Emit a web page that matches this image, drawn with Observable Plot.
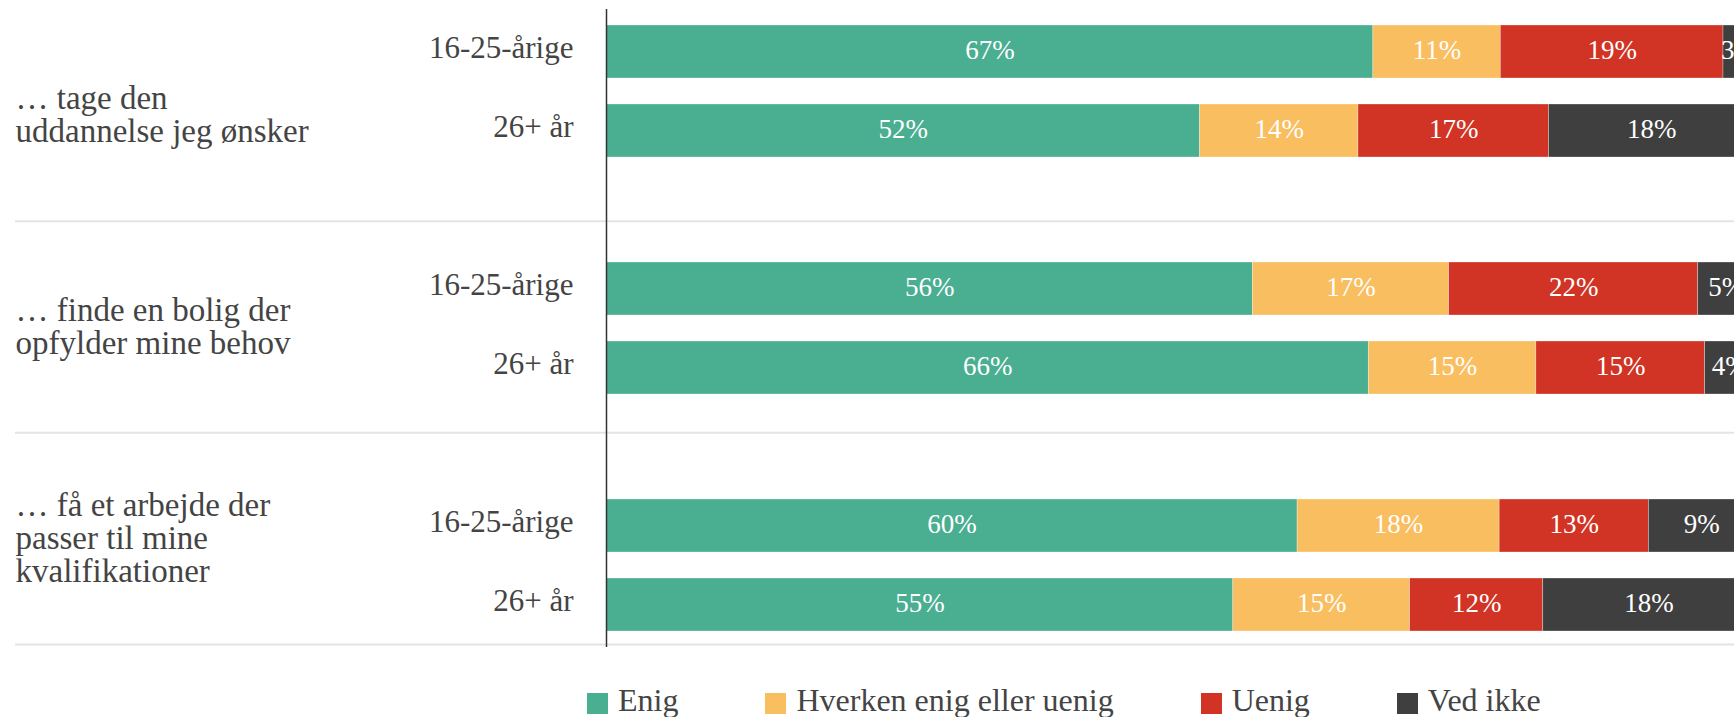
<!DOCTYPE html>
<html>
<head>
<meta charset="utf-8">
<script src="https://cdn.jsdelivr.net/npm/d3@7"></script>
<script src="https://cdn.jsdelivr.net/npm/@observablehq/plot@0.6"></script>
<style>
  html, body { margin: 0; padding: 0; background: #fff; overflow: hidden; }
  #chart { position: relative; width: 1734px; height: 660px; overflow: hidden; }
  #chart > svg { position: absolute; left: 0; top: 0; }
  #legend { position: relative; top: 12px; display: flex; align-items: center; height: 57px; padding-left: 587px;
            font-family: "Liberation Serif", serif; font-size: 32px; color: #444; }
  .item { display: flex; align-items: center; margin-right: 87px; }
  .sw { width: 21px; height: 21px; margin-right: 10px; margin-top: 5px; }
</style>
</head>
<body>
<div id="chart"></div>
<div id="legend"></div>
<script>
// ---- data ----
const questions = [
  "… tage den\nuddannelse jeg ønsker",
  "… finde en bolig der\nopfylder mine behov",
  "… få et arbejde der\npasser til mine\nkvalifikationer"
];
const ages = ["16-25-årige", "26+ år"];
const categories = ["Enig", "Hverken enig eller uenig", "Uenig", "Ved ikke"];
const colors = ["#4aae91", "#f9be60", "#d13324", "#3f3f3f"];
// rows: q1/16-25, q1/26+, q2/16-25, q2/26+, q3/16-25, q3/26+
const enig    = [66.8, 51.7, 56.3, 66.4, 60.2, 54.6];
const hverken = [11.1, 13.8, 17.1, 14.6, 17.6, 15.4];
const uenig   = [19.4, 16.6, 21.7, 14.7, 13.0, 11.6];
const vedIkke = [2.7, 17.9, 4.9, 4.3, 9.2, 18.4];

// ---- build tables ----
const series = [enig, hverken, uenig, vedIkke];
const slots = [];
const rowKeys = [];
questions.forEach((q, qi) => {
  ages.forEach((a, ai) => { const k = qi + "|" + ai; slots.push(k); rowKeys.push(k); });
  if (qi < questions.length - 1) slots.push("gap" + qi);
});
const rows = [];
rowKeys.forEach((k, ri) => {
  categories.forEach((c, ci) => rows.push({slot: k, cat: c, value: series[ci][ri]}));
});
const qRows = questions.map((q, i) => ({label: q, mid: i + 0.5, end: i + 1}));

const font = "'Liberation Serif', serif";

// background layer: question labels + separators
const back = Plot.plot({
  width: 1734, height: 660,
  marginTop: 9, marginBottom: 16, marginLeft: 15, marginRight: 0,
  style: {fontFamily: font, background: "transparent"},
  x: {axis: null},
  y: {domain: [0, questions.length], range: [9, 644], axis: null},
  marks: [
    Plot.ruleY(qRows, {y: "end", stroke: "#e4e4e4", strokeWidth: 2}),
    Plot.text(qRows, {y: "mid", text: "label", frameAnchor: "left", textAnchor: "start",
      lineAnchor: "middle", fontSize: 33, lineHeight: 1.0, fill: "#444"})
  ]
});

// bars layer
const bars = Plot.plot({
  width: 1734, height: 660,
  marginTop: 9, marginBottom: 13, marginLeft: 606, marginRight: 0,
  style: {fontFamily: font, background: "transparent"},
  x: {domain: [0, 100], range: [606, 1754], axis: null},
  y: {type: "band", domain: slots, paddingInner: 0.335, paddingOuter: 0.168, axis: null},
  color: {domain: categories, range: colors},
  marks: [
    Plot.barX(rows, Plot.stackX({x: "value", y: "slot", fill: "cat", z: "cat", order: categories,
      stroke: "white", strokeWidth: 0.6, strokeOpacity: 0.5})),
    Plot.textX(rows, Plot.stackX({x: "value", y: "slot", z: "cat", order: categories,
      text: d => Math.round(d.value) + "%", fill: "white", fontSize: 27, dy: -2})),
    Plot.axisY({ticks: rowKeys, tickFormat: k => ages[+k.split("|")[1]], tickSize: 0,
      tickPadding: 33, fontSize: 31, fill: "#444", label: null, dy: -4}),
    Plot.ruleX([0], {stroke: "#333", strokeWidth: 1.5})
  ]
});

const chart = document.getElementById("chart");
chart.append(back, bars);

const legend = document.getElementById("legend");
categories.forEach((c, i) => {
  const it = document.createElement("div");
  it.className = "item";
  const sw = document.createElement("div");
  sw.className = "sw";
  sw.style.background = colors[i];
  const t = document.createElement("span");
  t.textContent = c;
  it.append(sw, t);
  legend.append(it);
});
</script>
</body>
</html>
